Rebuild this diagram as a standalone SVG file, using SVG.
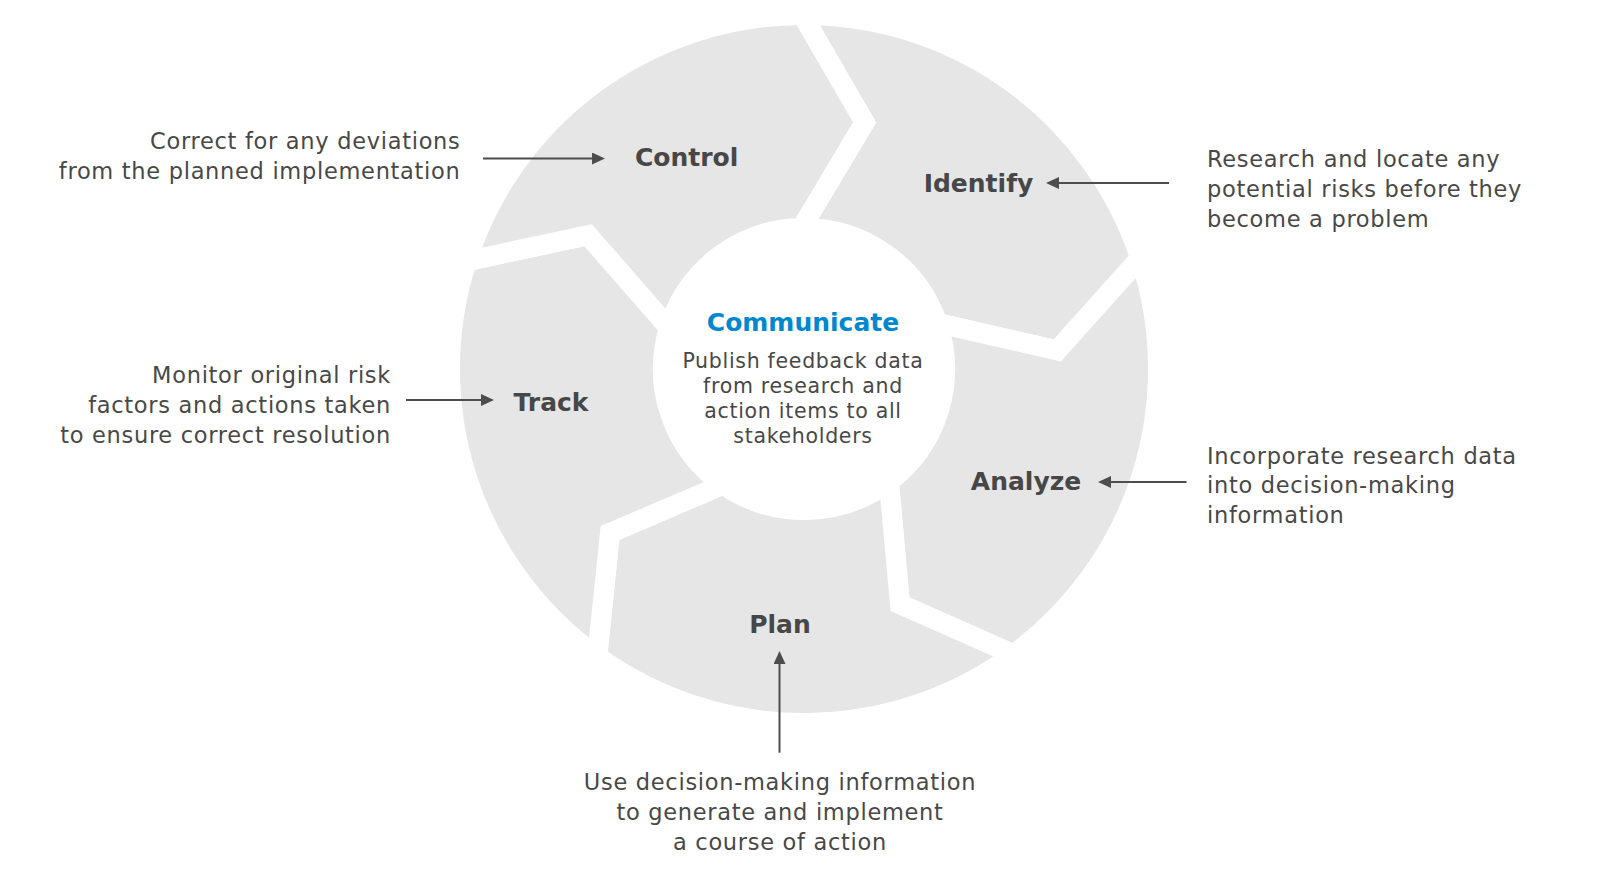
<svg xmlns="http://www.w3.org/2000/svg" xmlns:xlink="http://www.w3.org/1999/xlink" width="1598" height="883" viewBox="0 0 1598 883">
  <style>
    .seg { fill: #e6e6e6; stroke: #ffffff; stroke-width: 20; stroke-linejoin: miter; }
    .lbl { font-family: "DejaVu Sans", sans-serif; font-weight: bold; font-size: 25px; fill: #474747; text-anchor: middle; }
    .hub { font-family: "DejaVu Sans", sans-serif; font-weight: bold; font-size: 25px; fill: #0088ce; text-anchor: middle; }
    .txt { font-family: "DejaVu Sans", sans-serif; font-size: 22.5px; fill: #484848; letter-spacing: 0.7px; }
    .ctr { font-family: "DejaVu Sans", sans-serif; font-size: 20.5px; fill: #484848; letter-spacing: 0.7px; text-anchor: middle; }
    .end { text-anchor: end; }
    .mid { text-anchor: middle; }
    .arr { stroke: #4d4d4d; stroke-width: 2; fill: none; marker-end: url(#ah); }
  </style>
  <defs>
    <marker id="ah" markerUnits="userSpaceOnUse" markerWidth="13" markerHeight="12" refX="4" refY="6" orient="auto">
      <path d="M0,0 L13,6 L0,12 Z" fill="#4d4d4d"/>
    </marker>
    <path id="seg" class="seg" d="M 802.36 14.96 L 864.59 122.33 L 801.53 227.91 A 141.11 141.11 0 0 1 937.42 323.05 L 1057.32 350.40 L 1140.17 258.00 A 354 354 0 0 0 802.36 14.96 Z"/>
  </defs>
  <rect width="1598" height="883" fill="#ffffff"/>

  <g id="identify">
    <use xlink:href="#seg"/>
    <text class="lbl" x="978.5" y="191.5">Identify</text>
    <text class="txt" x="1207" y="166.5">Research and locate any</text>
    <text class="txt" x="1207" y="196.5">potential risks before they</text>
    <text class="txt" x="1207" y="226.5">become a problem</text>
  </g>

  <g id="analyze">
    <use xlink:href="#seg" transform="rotate(72 804 369)"/>
    <text class="lbl" x="1026" y="490">Analyze</text>
    <text class="txt" x="1207" y="463.5">Incorporate research data</text>
    <text class="txt" x="1207" y="493">into decision-making</text>
    <text class="txt" x="1207" y="522.5">information</text>
  </g>

  <g id="plan">
    <use xlink:href="#seg" transform="rotate(144 804 369)"/>
    <text class="lbl" x="780" y="633">Plan</text>
    <text class="txt mid" x="780" y="790">Use decision-making information</text>
    <text class="txt mid" x="780" y="820">to generate and implement</text>
    <text class="txt mid" x="780" y="849.5">a course of action</text>
  </g>

  <g id="track">
    <use xlink:href="#seg" transform="rotate(216 804 369)"/>
    <text class="lbl" x="551" y="411">Track</text>
    <text class="txt end" x="391" y="383.3">Monitor original risk</text>
    <text class="txt end" x="391" y="413">factors and actions taken</text>
    <text class="txt end" x="391" y="442.7">to ensure correct resolution</text>
  </g>

  <g id="control">
    <use xlink:href="#seg" transform="rotate(288 804 369)"/>
    <text class="lbl" x="686.7" y="166">Control</text>
    <text class="txt end" x="460.5" y="149.3">Correct for any deviations</text>
    <text class="txt end" x="460.5" y="179.3">from the planned implementation</text>
  </g>

  <g id="communicate">
    <text class="hub" x="803" y="331">Communicate</text>
    <text class="ctr" x="803" y="368.3">Publish feedback data</text>
    <text class="ctr" x="803" y="393.3">from research and</text>
    <text class="ctr" x="803" y="418.3">action items to all</text>
    <text class="ctr" x="803" y="443.3">stakeholders</text>
  </g>

  <g id="connectors">
    <line class="arr" x1="483" y1="158.5" x2="596" y2="158.5"/>
    <line class="arr" x1="1169" y1="183" x2="1055" y2="183"/>
    <line class="arr" x1="406" y1="400" x2="485" y2="400"/>
    <line class="arr" x1="1186.5" y1="482" x2="1107" y2="482"/>
    <line class="arr" x1="779.5" y1="752.7" x2="779.5" y2="660"/>
  </g>
</svg>
